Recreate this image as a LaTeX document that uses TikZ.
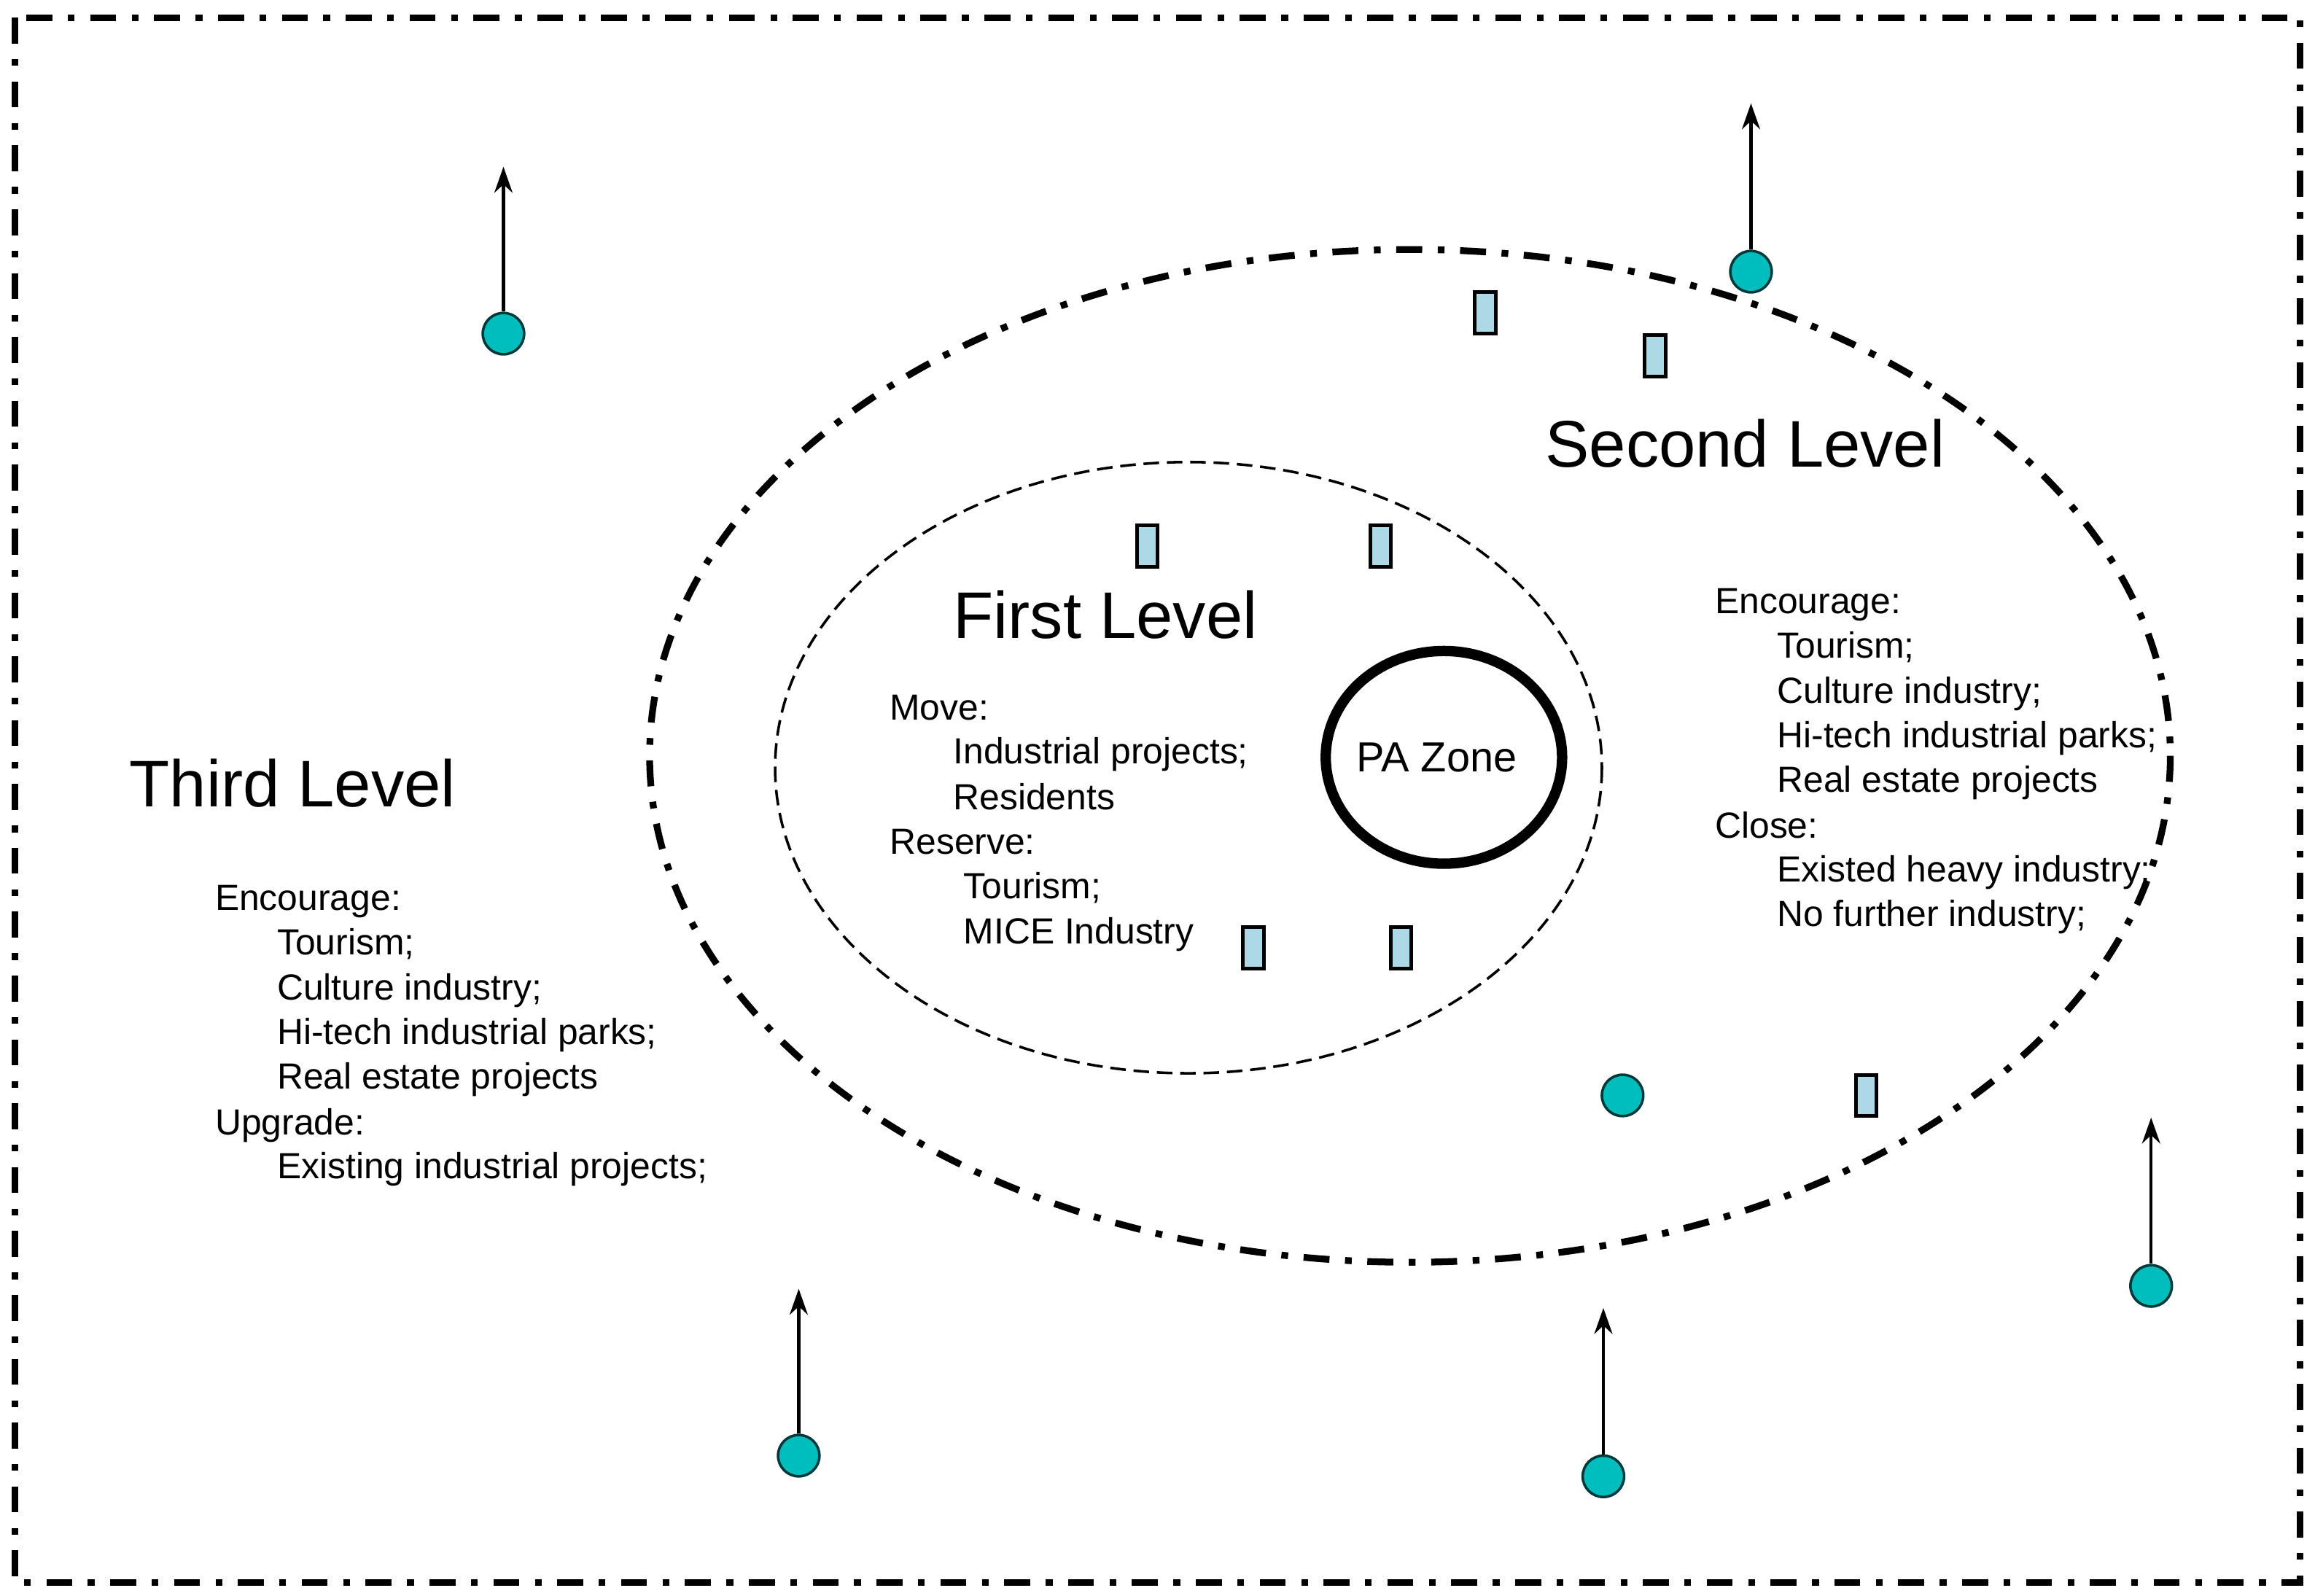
\documentclass[tikz,border=0pt]{standalone}
\usepackage{fontspec}
\setmainfont{Liberation Sans}
\usetikzlibrary{arrows.meta,shapes.geometric}
\definecolor{teal1}{RGB}{0,190,190}
\definecolor{lb}{RGB}{173,216,230}
\begin{document}
\begin{tikzpicture}[x=0.01cm,y=-0.01cm,
  dd/.style={line width=1.3pt,dash pattern=on 5pt off 3pt on 1.3pt off 3pt},
  box/.style={draw,line width=0.7pt,fill=lb,minimum width=0.14cm,minimum height=0.28cm,inner sep=0pt},
  dot/.style={circle,draw=black!70!teal1,fill=teal1,minimum size=0.28cm,inner sep=0pt,line width=0.5pt},
  arr/.style={-{Stealth[length=5pt,width=3.5pt]},line width=0.6pt},
  big/.style={font=\fontsize{12.7}{15}\selectfont,inner sep=0pt,text height=9pt,text depth=2.5pt},
  lst/.style={font=\fontsize{7}{8.6}\selectfont,inner sep=0pt,anchor=west,text height=5.2pt,text depth=1.5pt}]
\useasboundingbox (0,0) rectangle (1568,1080.6);
\draw[dd] (10,12) rectangle (1558,1072);
\draw[dd] (955,512) ellipse [x radius=515,y radius=343];
\draw[dashed,line width=0.5pt,dash pattern=on 3pt off 1.5pt] (805,520) ellipse [x radius=280,y radius=207];
\node[draw,ellipse,line width=2pt,minimum width=1.6cm,minimum height=1.44cm,inner sep=0pt] (pa) at (978,513) {};
\node[font=\fontsize{8.1}{10}\selectfont] (pat) at (973,513) {PA Zone};
\foreach \n/\x/\y in {b1/777/370,b2/935/370,b3/849/642,b4/949/642,b5/1006/212,b6/1121/241,b7/1264/742}
  \node[box] (\n) at (\x,\y) {};
\node[dot] (d1) at (341,226) {}; \coordinate (t1) at (341,113);
\node[dot] (d2) at (1186,184) {}; \coordinate (t2) at (1186,70);
\node[dot] (d3) at (1099,742) {};
\node[dot] (d4) at (1457,871) {}; \coordinate (t4) at (1457,757);
\node[dot] (d5) at (541,986) {}; \coordinate (t5) at (541,873);
\node[dot] (d6) at (1086,1000) {}; \coordinate (t6) at (1086,886);
\foreach \i in {1,2,4,5,6} \draw[arr] (d\i.north) -- (t\i);
\node[big,anchor=west] (l3) at (87,535) {Third Level};
\node[big,anchor=west] (l2) at (1046,305) {Second Level};
\node[big,anchor=west] (l1) at (645,421) {First Level};
% third list
\node[lst] at (145,610) {Encourage:};
\node[lst] at (187,640) {Tourism;};
\node[lst] at (187,671) {Culture industry;};
\node[lst] at (187,701) {Hi-tech industrial parks;};
\node[lst] at (187,731) {Real estate projects};
\node[lst] at (145,762) {Upgrade:};
\node[lst] at (187,792) {Existing industrial projects;};
% second list
\node[lst] at (1161,409) {Encourage:};
\node[lst] at (1203,439) {Tourism;};
\node[lst] at (1203,470) {Culture industry;};
\node[lst] at (1203,500) {Hi-tech industrial parks;};
\node[lst] at (1203,530) {Real estate projects};
\node[lst] at (1161,561) {Close:};
\node[lst] at (1203,591) {Existed heavy industry;};
\node[lst] at (1203,621) {No further industry;};
% first list
\node[lst] at (602,481) {Move:};
\node[lst] at (645,511) {Industrial projects;};
\node[lst] at (645,542) {Residents};
\node[lst] at (602,572) {Reserve:};
\node[lst] at (652,602) {Tourism;};
\node[lst] at (652,633) {MICE Industry};
\end{tikzpicture}
\end{document}
